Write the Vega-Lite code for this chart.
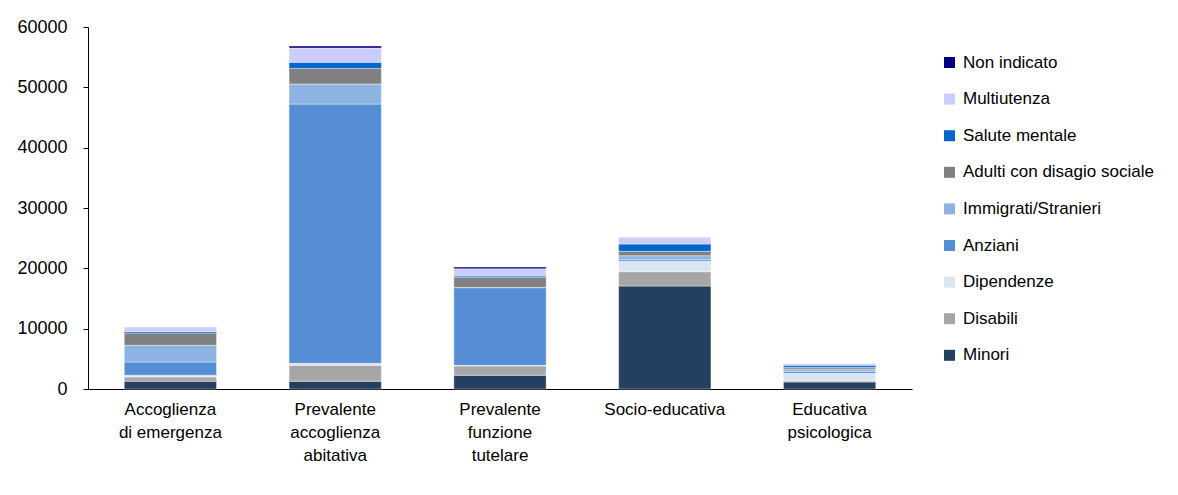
{
  "$schema": "https://vega.github.io/schema/vega-lite/v6.json",
  "width": 824,
  "height": 362,
  "padding": {"left": 5, "top": 18, "right": 5, "bottom": 5},
  "background": "white",
  "config": {
    "font": "Liberation Sans",
    "view": {"stroke": null},
    "axis": {"labelColor": "black", "domainColor": "black", "tickColor": "black", "grid": false, "title": null}
  },
  "data": {
    "values": [
      {"cat": "Accoglienza di emergenza", "utenza": "Minori", "ord": 1, "v": 1300},
      {"cat": "Accoglienza di emergenza", "utenza": "Disabili", "ord": 2, "v": 700},
      {"cat": "Accoglienza di emergenza", "utenza": "Dipendenze", "ord": 3, "v": 280},
      {"cat": "Accoglienza di emergenza", "utenza": "Anziani", "ord": 4, "v": 2200},
      {"cat": "Accoglienza di emergenza", "utenza": "Immigrati/Stranieri", "ord": 5, "v": 2770},
      {"cat": "Accoglienza di emergenza", "utenza": "Adulti con disagio sociale", "ord": 6, "v": 2040},
      {"cat": "Accoglienza di emergenza", "utenza": "Salute mentale", "ord": 7, "v": 230},
      {"cat": "Accoglienza di emergenza", "utenza": "Multiutenza", "ord": 8, "v": 660},
      {"cat": "Accoglienza di emergenza", "utenza": "Non indicato", "ord": 9, "v": 50},
      {"cat": "Prevalente accoglienza abitativa", "utenza": "Minori", "ord": 1, "v": 1280},
      {"cat": "Prevalente accoglienza abitativa", "utenza": "Disabili", "ord": 2, "v": 2650},
      {"cat": "Prevalente accoglienza abitativa", "utenza": "Dipendenze", "ord": 3, "v": 330},
      {"cat": "Prevalente accoglienza abitativa", "utenza": "Anziani", "ord": 4, "v": 42970},
      {"cat": "Prevalente accoglienza abitativa", "utenza": "Immigrati/Stranieri", "ord": 5, "v": 3310},
      {"cat": "Prevalente accoglienza abitativa", "utenza": "Adulti con disagio sociale", "ord": 6, "v": 2600},
      {"cat": "Prevalente accoglienza abitativa", "utenza": "Salute mentale", "ord": 7, "v": 1000},
      {"cat": "Prevalente accoglienza abitativa", "utenza": "Multiutenza", "ord": 8, "v": 2370},
      {"cat": "Prevalente accoglienza abitativa", "utenza": "Non indicato", "ord": 9, "v": 330},
      {"cat": "Prevalente funzione tutelare", "utenza": "Minori", "ord": 1, "v": 2270},
      {"cat": "Prevalente funzione tutelare", "utenza": "Disabili", "ord": 2, "v": 1540},
      {"cat": "Prevalente funzione tutelare", "utenza": "Dipendenze", "ord": 3, "v": 110},
      {"cat": "Prevalente funzione tutelare", "utenza": "Anziani", "ord": 4, "v": 12870},
      {"cat": "Prevalente funzione tutelare", "utenza": "Immigrati/Stranieri", "ord": 5, "v": 50},
      {"cat": "Prevalente funzione tutelare", "utenza": "Adulti con disagio sociale", "ord": 6, "v": 1660},
      {"cat": "Prevalente funzione tutelare", "utenza": "Salute mentale", "ord": 7, "v": 220},
      {"cat": "Prevalente funzione tutelare", "utenza": "Multiutenza", "ord": 8, "v": 1210},
      {"cat": "Prevalente funzione tutelare", "utenza": "Non indicato", "ord": 9, "v": 280},
      {"cat": "Socio-educativa", "utenza": "Minori", "ord": 1, "v": 17070},
      {"cat": "Socio-educativa", "utenza": "Disabili", "ord": 2, "v": 2370},
      {"cat": "Socio-educativa", "utenza": "Dipendenze", "ord": 3, "v": 1720},
      {"cat": "Socio-educativa", "utenza": "Anziani", "ord": 4, "v": 270},
      {"cat": "Socio-educativa", "utenza": "Immigrati/Stranieri", "ord": 5, "v": 660},
      {"cat": "Socio-educativa", "utenza": "Adulti con disagio sociale", "ord": 6, "v": 730},
      {"cat": "Socio-educativa", "utenza": "Salute mentale", "ord": 7, "v": 1210},
      {"cat": "Socio-educativa", "utenza": "Multiutenza", "ord": 8, "v": 1050},
      {"cat": "Socio-educativa", "utenza": "Non indicato", "ord": 9, "v": 30},
      {"cat": "Educativa psicologica", "utenza": "Minori", "ord": 1, "v": 1160},
      {"cat": "Educativa psicologica", "utenza": "Disabili", "ord": 2, "v": 170},
      {"cat": "Educativa psicologica", "utenza": "Dipendenze", "ord": 3, "v": 1280},
      {"cat": "Educativa psicologica", "utenza": "Anziani", "ord": 4, "v": 330},
      {"cat": "Educativa psicologica", "utenza": "Immigrati/Stranieri", "ord": 5, "v": 380},
      {"cat": "Educativa psicologica", "utenza": "Adulti con disagio sociale", "ord": 6, "v": 280},
      {"cat": "Educativa psicologica", "utenza": "Salute mentale", "ord": 7, "v": 330},
      {"cat": "Educativa psicologica", "utenza": "Multiutenza", "ord": 8, "v": 280},
      {"cat": "Educativa psicologica", "utenza": "Non indicato", "ord": 9, "v": 20}
    ]
  },
  "mark": {"type": "bar", "stroke": "white", "strokeWidth": 0.4},
  "encoding": {
    "x": {
      "field": "cat",
      "type": "nominal",
      "sort": null,
      "scale": {"paddingInner": 0.44, "paddingOuter": 0.22},
      "axis": {
        "labelAngle": 0,
        "ticks": false,
        "labelFontSize": 17,
        "labelPadding": 12,
        "labelBaseline": "top",
        "labelLineHeight": 23,
        "labelExpr": "datum.label == 'Accoglienza di emergenza' ? ['Accoglienza', 'di emergenza'] : datum.label == 'Prevalente accoglienza abitativa' ? ['Prevalente', 'accoglienza', 'abitativa'] : datum.label == 'Prevalente funzione tutelare' ? ['Prevalente', 'funzione', 'tutelare'] : datum.label == 'Educativa psicologica' ? ['Educativa', 'psicologica'] : datum.label"
      }
    },
    "y": {
      "field": "v",
      "type": "quantitative",
      "stack": "zero",
      "scale": {"domain": [0, 60000], "nice": false},
      "axis": {
        "values": [0, 10000, 20000, 30000, 40000, 50000, 60000],
        "format": "d",
        "labelFontSize": 18,
        "tickSize": 5,
        "labelPadding": 16,
        "minExtent": 83,
        "maxExtent": 83
      }
    },
    "color": {
      "field": "utenza",
      "type": "nominal",
      "scale": {
        "domain": ["Non indicato", "Multiutenza", "Salute mentale", "Adulti con disagio sociale", "Immigrati/Stranieri", "Anziani", "Dipendenze", "Disabili", "Minori"],
        "range": ["#000080", "#ccccff", "#0066cc", "#808080", "#8db3e2", "#558ed5", "#dbe5f1", "#a6a6a6", "#243f60"]
      },
      "legend": {
        "title": null,
        "orient": "none",
        "legendX": 853,
        "legendY": 27,
        "symbolType": "square",
        "symbolSize": 121,
        "symbolStrokeWidth": 0,
        "labelFontSize": 17,
        "labelColor": "black",
        "labelOffset": 5,
        "labelLimit": 0,
        "rowPadding": 18.6,
        "padding": 0
      }
    },
    "order": {"field": "ord", "type": "quantitative"}
  }
}
